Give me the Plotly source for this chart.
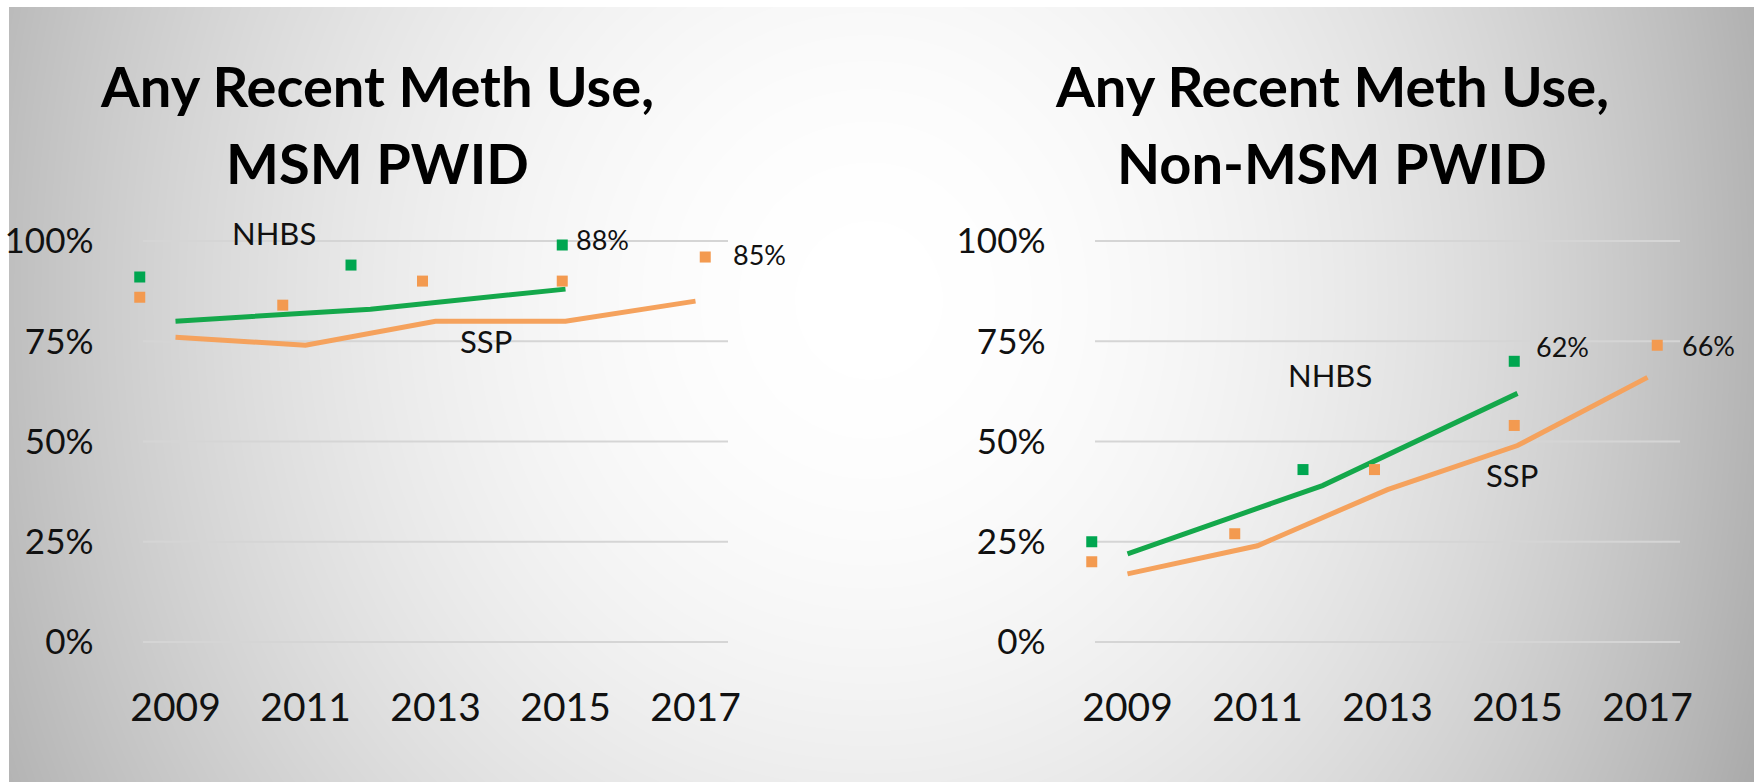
import numpy as np
import plotly.graph_objects as go

# ---- data -------------------------------------------------------------
line_years_nhbs = [2009, 2012, 2015]
line_years_ssp = [2009, 2011, 2013, 2015, 2017]

msm_nhbs_line = [80, 83, 88]
msm_ssp_line = [76, 74, 80, 80, 85]
non_nhbs_line = [22, 39, 62]
non_ssp_line = [17, 24, 38, 49, 66]

point_years_nhbs = [2008.45, 2011.7, 2014.95]
point_years_ssp = [2008.45, 2010.65, 2012.8, 2014.95, 2017.15]

msm_nhbs_pts = [91, 94, 99]
msm_ssp_pts = [86, 84, 90, 90, 96]
non_nhbs_pts = [25, 43, 70]
non_ssp_pts = [20, 27, 43, 54, 74]

year_ticks = [2009, 2011, 2013, 2015, 2017]
pct_ticks = [0, 25, 50, 75, 100]
pct_labels = [f"{v}%" for v in pct_ticks]

title_lines = [("Any Recent Meth Use,", "MSM PWID"),
               ("Any Recent Meth Use,", "Non-MSM PWID")]

GREEN = "#14a84b"
GREEN_PT = "#00a650"
ORANGE = "#f5a25d"
ORANGE_PT = "#f39a50"
FONT = "Lato"
INK = "#111111"

W, H = 1754, 782

# axis windows (gridlines span 2008.5-2017.5 and 0-100 %)
X_RANGE = [2008.0, 2018.6]
Y_RANGE = [-6, 110]
PX_PER_YEAR = 65.0
PX_PER_PCT = 4.01
ZERO_PX = 642.0

fig = go.Figure()

# ---- soft grey backdrop (first subplot, drawn underneath) -------------
gx = np.linspace(-40, W + 40, 100)
gy = np.linspace(-40, H + 40, 50)
X, Y = np.meshgrid(gx, gy)
ux = np.where(X < 870, (X - 870) / 860, (X - 870) / 820)
vy = (Y - 300) / 480
shade = 255 - 64 * ux ** 2 - 18 * vy ** 2 * (1 - 0.4 * np.clip(ux ** 2, 0, 1))
shade = np.clip(shade, 0, 255)
fig.add_trace(go.Heatmap(
    x=gx, y=gy, z=shade, zmin=0, zmax=255, zsmooth="best",
    colorscale=[[0, "black"], [1, "white"]], showscale=False,
    hoverinfo="skip", xaxis="x", yaxis="y"))

fig.update_layout(
    xaxis=dict(domain=[9 / W, 1], range=[9, W], visible=False, fixedrange=True),
    yaxis=dict(domain=[0, 1 - 7 / H], range=[H, 7], visible=False, fixedrange=True),
)

# ---- panels -----------------------------------------------------------
panels = [
    dict(n="2", left_px=143.0,
         nl=msm_nhbs_line, sl=msm_ssp_line, np_=msm_nhbs_pts, sp=msm_ssp_pts,
         nhbs_lab=(2010.52, 102), ssp_lab=(2013.77, 75.0),
         n_val=(2015.13, 100.4), s_val=(2017.55, 96.6)),
    dict(n="3", left_px=1095.0,
         nl=non_nhbs_line, sl=non_ssp_line, np_=non_nhbs_pts, sp=non_ssp_pts,
         nhbs_lab=(2012.12, 66.6), ssp_lab=(2014.92, 41.6),
         n_val=(2015.25, 73.6), s_val=(2017.5, 73.9)),
]

y_bottom_px = ZERO_PX - Y_RANGE[0] * PX_PER_PCT
y_top_px = ZERO_PX - Y_RANGE[1] * PX_PER_PCT
ydom = [1 - y_bottom_px / H, 1 - y_top_px / H]

for p in panels:
    n = p["n"]
    xa, ya = "x" + n, "y" + n
    x0 = p["left_px"] + (X_RANGE[0] - 2008.5) * PX_PER_YEAR
    x1 = p["left_px"] + (X_RANGE[1] - 2008.5) * PX_PER_YEAR

    # horizontal gridlines across the category span
    for v in pct_ticks:
        fig.add_shape(type="line", xref=xa, yref=ya, x0=2008.5, x1=2017.5,
                      y0=v, y1=v, layer="below",
                      line=dict(color="#d5d5d5", width=2))

    fig.add_trace(go.Scatter(x=line_years_ssp, y=p["sl"], mode="lines",
                             line=dict(color=ORANGE, width=5), xaxis=xa, yaxis=ya,
                             showlegend=False, hoverinfo="skip"))
    fig.add_trace(go.Scatter(x=line_years_nhbs, y=p["nl"], mode="lines",
                             line=dict(color=GREEN, width=5), xaxis=xa, yaxis=ya,
                             showlegend=False, hoverinfo="skip"))
    fig.add_trace(go.Scatter(x=point_years_ssp, y=p["sp"], mode="markers",
                             marker=dict(symbol="square", size=11, color=ORANGE_PT),
                             xaxis=xa, yaxis=ya,
                             showlegend=False, hoverinfo="skip"))
    fig.add_trace(go.Scatter(x=point_years_nhbs, y=p["np_"], mode="markers",
                             marker=dict(symbol="square", size=11, color=GREEN_PT),
                             xaxis=xa, yaxis=ya,
                             showlegend=False, hoverinfo="skip"))

    fig.layout["xaxis" + n] = dict(
        domain=[x0 / W, x1 / W], range=X_RANGE, anchor=ya,
        tickvals=year_ticks, ticktext=[str(t) for t in year_ticks],
        ticks="", ticklabelstandoff=15,
        showgrid=False, zeroline=False, showline=False, fixedrange=True,
        tickfont=dict(family=FONT, size=39, color=INK))
    fig.layout["yaxis" + n] = dict(
        domain=ydom, range=Y_RANGE, anchor=xa,
        tickvals=pct_ticks, ticktext=pct_labels, ticks="", ticklabelstandoff=16,
        showgrid=False, zeroline=False, showline=False, fixedrange=True,
        tickfont=dict(family=FONT, size=35, color=INK))

    for (lx, ly), txt in [(p["nhbs_lab"], "NHBS"), (p["ssp_lab"], "SSP")]:
        fig.add_annotation(x=lx, y=ly, xref=xa, yref=ya, text=txt,
                           showarrow=False, xanchor="center", yanchor="middle",
                           font=dict(family=FONT, size=31, color=INK))
    for (lx, ly), val in [(p["n_val"], p["nl"][-1]), (p["s_val"], p["sl"][-1])]:
        fig.add_annotation(x=lx, y=ly, xref=xa, yref=ya, text=f"{val}%",
                           showarrow=False, xanchor="left", yanchor="middle",
                           font=dict(family=FONT, size=27, color=INK))

# ---- titles -----------------------------------------------------------
for cx, lines in zip([377, 1332], title_lines):
    for cy, line in zip([85, 163], lines):
        fig.add_annotation(x=cx / W, y=1 - cy / H, xref="paper", yref="paper",
                           text=f"<b>{line}</b>", showarrow=False,
                           xanchor="center", yanchor="middle",
                           font=dict(family=FONT, size=56, color="#000000"))

fig.update_layout(
    width=W, height=H, autosize=False,
    margin=dict(l=0, r=0, t=0, b=0, pad=0, autoexpand=False),
    paper_bgcolor="white", plot_bgcolor="rgba(0,0,0,0)",
    showlegend=False,
)

fig.write_html("out.html", config={"displayModeBar": False})
